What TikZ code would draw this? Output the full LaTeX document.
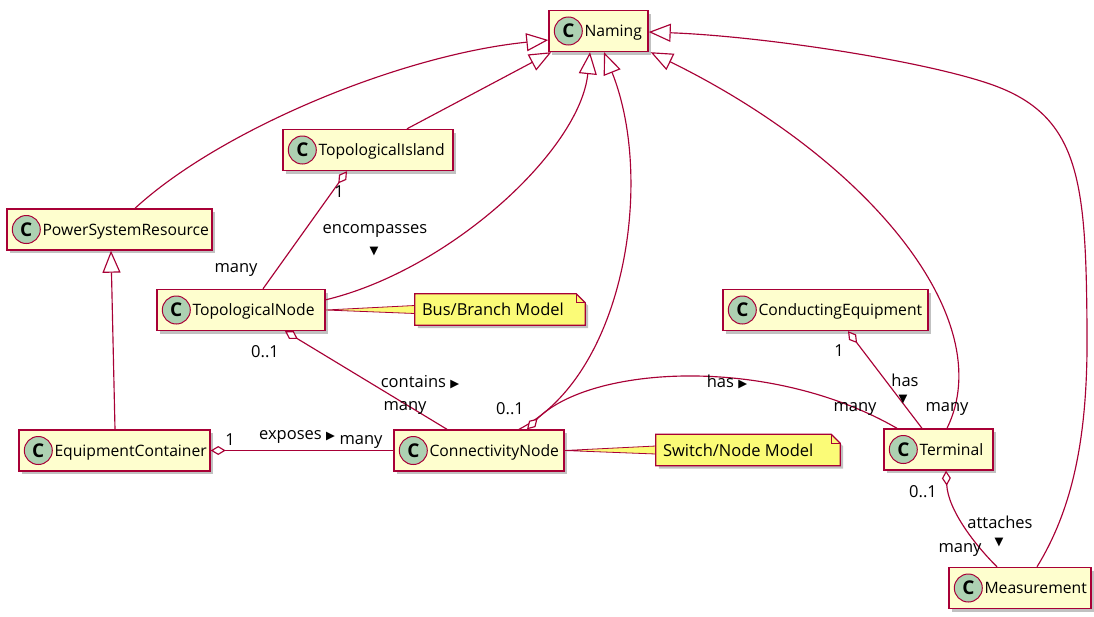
\documentclass[tikz,border=0pt]{standalone}
\usepackage{fontspec}
\setmainfont{Open Sans}
\newfontfamily\glyphfont{DejaVu Sans}
\usetikzlibrary{arrows.meta,shadows,calc}

\definecolor{umlred}{HTML}{A80036}
\definecolor{classbg}{HTML}{FEFECE}
\definecolor{badgebg}{HTML}{ADD1B2}
\definecolor{notebg}{HTML}{FBFB77}

\tikzset{
  boxshadow/.style={drop shadow={shadow xshift=3pt, shadow yshift=-3pt, opacity=0.4, fill=black!60}},
  clsbox/.style={draw=umlred, line width=1.4pt, fill=classbg, minimum height=41pt, inner sep=0pt, boxshadow},
  badge/.style={circle, draw=umlred, line width=1pt, fill=badgebg, minimum size=28pt, inner sep=0pt,
    font=\fontsize{19}{19}\selectfont\bfseries},
  clstext/.style={anchor=base west, inner sep=0pt, font=\fontsize{15.7}{16}\selectfont},
  link/.style={draw=umlred, line width=1.15pt},
  gen/.style={link, -{Triangle[fill=white, length=22pt, width=18pt]}},
  agg/.style={link, {Diamond[fill=white, length=15pt, width=9pt]}-},
  lbl/.style={inner sep=0pt, font=\fontsize{16.5}{17}\selectfont},
  dirmark/.style={inner sep=0pt, font=\fontsize{11.5}{11.5}\glyphfont},
  notebox/.style={minimum height=31pt, inner sep=0pt},
  noteshape/.style={draw=umlred, line width=1.2pt, fill=notebg, boxshadow},
  wedge/.style={draw=umlred, line width=0.8pt, fill=notebg},
}

% class box: name, centre x, centre y, width, title
\newcommand\umlclass[5]{%
  \node[clsbox, minimum width=#4pt] (#1) at (#2,#3) {};
  \node[badge] (#1-badge) at ($(#1.west)+(20,0)$) {C};
  \node[clstext] (#1-name) at ($(#1.west)+(36,5.5)$) {#5};
}
\newcommand\notepath[1]{(#1.south west) -- (#1.south east) -- ($(#1.north east)+(0,9)$) -- ($(#1.north east)+(-9,0)$) -- (#1.north west) -- cycle}
\newcommand\tri[1]{{\fontsize{11.5}{11.5}\glyphfont #1}}

\begin{document}
\begin{tikzpicture}[x=1pt, y=-1pt]
\fill[white] (0,0) rectangle (1094,616);
\useasboundingbox (0,0) rectangle (1094,616);

% classes
\umlclass{naming}{598.5}{31}{99}{Naming}
\umlclass{ti}{368}{150}{170}{TopologicalIsland}
\umlclass{psr}{109.5}{229.5}{205}{PowerSystemResource}
\umlclass{tn}{241}{310}{168}{TopologicalNode}
\umlclass{ce}{825.5}{310}{205}{ConductingEquipment}
\umlclass{ec}{114.5}{450.5}{191}{EquipmentContainer}
\umlclass{cn}{479}{450.5}{170}{ConnectivityNode}
\umlclass{term}{938.5}{449.5}{109}{Terminal}
\umlclass{meas}{1020}{588}{142}{Measurement}

% notes and their attachments
\node[notebox, minimum width=170pt] (bb) at (500,309.5) {};
\node[notebox, minimum width=184pt] (sn) at (748,450) {};
\filldraw[wedge] (tn.east) -- ($(bb.west)+(0,-4)$) -- ($(bb.west)+(0,4)$) -- cycle;
\filldraw[wedge] (cn.east) -- ($(sn.west)+(0,-4)$) -- ($(sn.west)+(0,4)$) -- cycle;
\filldraw[noteshape] \notepath{bb};
\filldraw[noteshape] \notepath{sn};
\draw[umlred, line width=1pt] ($(bb.north east)+(-9,0)$) |- ($(bb.north east)+(0,9)$);
\draw[umlred, line width=1pt] ($(sn.north east)+(-9,0)$) |- ($(sn.north east)+(0,9)$);
\node[lbl, anchor=base west] (bb-text) at ($(bb.west)+(7,6)$) {Bus/Branch Model};
\node[lbl, anchor=base west] (sn-text) at ($(sn.west)+(7,6)$) {Switch/Node Model};

% generalizations
\draw[gen] ($(psr.north)+(25.5,0)$) .. controls (220,130) and (400,55) .. ($(naming.west)+(0,9)$);
\draw[gen] ($(ti.north)+(39,0)$) -- ($(naming.south west)+(3,0)$);
\draw[gen] ($(tn.north east)+(0,11)$) .. controls (450,270) and (580,150) .. ($(naming.south)+(-8.5,0)$);
\draw[gen] ($(cn.north)+(40,0)$) .. controls (625,375) and (655,180) .. ($(naming.south)+(5.5,0)$);
\draw[gen] ($(term.north)+(8.5,0)$) .. controls (1000,320) and (870,160) .. ($(naming.south east)+(2,0)$);
\draw[gen] ($(meas.north)+(17,0)$) .. controls (1075,505) and (1088,430) .. (1087,330)
  .. controls (1086,180) and (1080,115) .. (990,84)
  .. controls (920,60) and (760,36) .. ($(naming.east)+(0,1)$);
\draw[gen] ($(ec.north)+(0.5,0)$) -- ($(psr.south)+(1.5,0)$);

% aggregations
\draw[agg] ($(ti.south)+(-21,0)$) -- ($(tn.north)+(22,0)$);
\draw[agg] ($(tn.south)+(44,0)$) -- ($(cn.north)+(-32,0)$);
\draw[agg] (ec.east) -- (cn.west);
\draw[agg] ($(cn.north)+(48,0)$) .. controls (590,365) and (770,355) .. ($(term.north)+(-41.5,0)$);
\draw[agg] ($(ce.south)+(22.5,0)$) -- ($(term.north)+(-16.5,0)$);
\draw[agg] ($(term.south)+(7.5,0)$) .. controls (948,510) and (975,545) .. ($(meas.north)+(-23,0)$);

% association labels and multiplicities
\node[lbl] (l-ti1) at (339,192) {1};
\node[lbl] (l-tnmany) at (236,270) {many};
\node[lbl] (l-enc) at (375,231) {encompasses};
\node[dirmark] (l-encdir) at (374,252) {▼};
\node[lbl] (l-tn01) at (265,352) {0..1};
\node[lbl] (l-contains) at (420,382) {contains \tri{▶}};
\node[lbl] (l-cnmany) at (405,408) {many};
\node[lbl] (l-ec1) at (230,440) {1};
\node[lbl] (l-exposes) at (297,437) {exposes \tri{▶}};
\node[lbl] (l-cnmany2) at (361,442) {many};
\node[lbl] (l-cn01) at (510,409) {0..1};
\node[lbl] (l-has1) at (727,382) {has \tri{▶}};
\node[lbl] (l-termmany1) at (855,409) {many};
\node[lbl] (l-ce1) at (839,351) {1};
\node[lbl] (l-has2) at (905,380) {has};
\node[dirmark] (l-has2dir) at (903,400) {▼};
\node[lbl] (l-termmany2) at (947,409) {many};
\node[lbl] (l-term01) at (923,492) {0..1};
\node[lbl] (l-attaches) at (1000,522) {attaches};
\node[dirmark] (l-attdir) at (999,543) {▼};
\node[lbl] (l-measmany) at (960,550) {many};
\end{tikzpicture}
\end{document}
